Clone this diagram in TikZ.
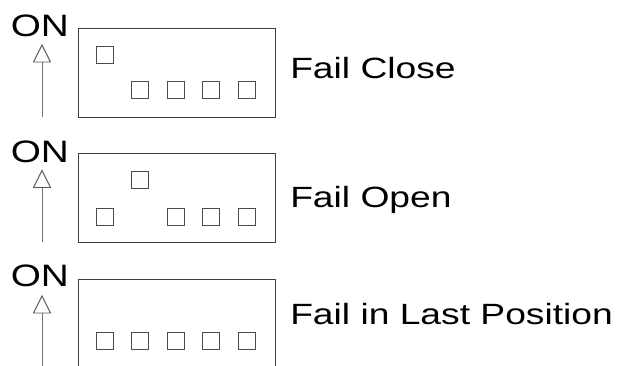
\documentclass[tikz,border=0pt]{standalone}
\usepackage{fontspec}
\setmainfont{Liberation Sans}
\tikzset{
  dipbox/.style={draw=black!75, line width=1pt, minimum width=197pt, minimum height=89pt, inner sep=0pt, anchor=north west},
  sw/.style={draw=black!70, line width=0.9pt, minimum size=17pt, inner sep=0pt},
  stem/.style={draw=black!55, line width=1pt},
  tri/.style={draw=black!65, line width=0.9pt, line join=miter},
  ontext/.style={anchor=base west, inner sep=0pt, xscale=1.25, font=\fontsize{31}{36}\selectfont},
  lbl/.style={anchor=base west, inner sep=0pt, xscale=1.27, font=\fontsize{29.3}{35}\selectfont}
}
\begin{document}
\begin{tikzpicture}[x=1pt,y=-1pt]
\useasboundingbox (0,0) rectangle (619,366);
% Panel 1
\node[ontext] (on1) at (10.5,37) {ON};
\coordinate (a1b) at (42,117);
\coordinate (a1m) at (42,62);
\coordinate (a1t) at (42,45);
\draw[stem] (a1b) -- (a1m);
\draw[tri] (a1t) -- ([xshift=-8.5pt]a1m) -- ([xshift=8.5pt]a1m) -- cycle;
\node[dipbox] (box1) at (77.5,28) {};
\node[sw] (s1a) at (104.5,54.5) {};
\node[sw] (s1b) at (140,90) {};
\node[sw] (s1c) at (175.5,90) {};
\node[sw] (s1d) at (211,90) {};
\node[sw] (s1e) at (246.5,90) {};
\node[lbl] (l1) at (290,79) {Fail Close};
% Panel 2
\node[ontext] (on2) at (10.5,162.5) {ON};
\coordinate (a2b) at (42,242.5);
\coordinate (a2m) at (42,187.5);
\coordinate (a2t) at (42,170.5);
\draw[stem] (a2b) -- (a2m);
\draw[tri] (a2t) -- ([xshift=-8.5pt]a2m) -- ([xshift=8.5pt]a2m) -- cycle;
\node[dipbox] (box2) at (77.5,153.5) {};
\node[sw] (s2a) at (104.5,216.5) {};
\node[sw] (s2b) at (140,180) {};
\node[sw] (s2c) at (175.5,216.5) {};
\node[sw] (s2d) at (211,216.5) {};
\node[sw] (s2e) at (246.5,216.5) {};
\node[lbl] (l2) at (290,207.5) {Fail Open};
% Panel 3
\node[ontext] (on3) at (10.5,287) {ON};
\coordinate (a3b) at (42,372);
\coordinate (a3m) at (42,313);
\coordinate (a3t) at (42,296);
\draw[stem] (a3b) -- (a3m);
\draw[tri] (a3t) -- ([xshift=-8.5pt]a3m) -- ([xshift=8.5pt]a3m) -- cycle;
\node[dipbox] (box3) at (77.5,279) {};
\node[sw] (s3a) at (104.5,341) {};
\node[sw] (s3b) at (140,341) {};
\node[sw] (s3c) at (175.5,341) {};
\node[sw] (s3d) at (211,341) {};
\node[sw] (s3e) at (246.5,341) {};
\node[lbl] (l3) at (290,324) {Fail in Last Position};
\end{tikzpicture}
\end{document}
